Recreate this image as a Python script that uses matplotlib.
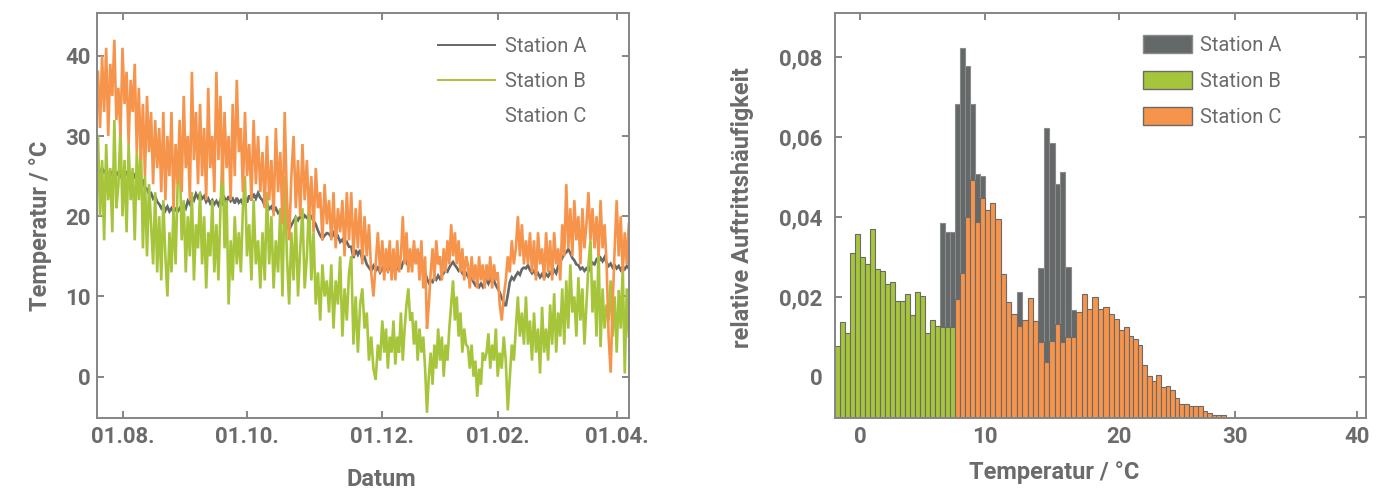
import numpy as np
import matplotlib
matplotlib.use("Agg")
import matplotlib.pyplot as plt
from matplotlib.lines import Line2D
from matplotlib.patches import Patch

plt.rcParams['font.family'] = ['Roboto', 'DejaVu Sans']

# ---------------- data: time series (day offset from 01.08.) ----------------
days = np.arange(-12, 250)

station_a = [
    26, 25.3, 26, 25.5, 25.8, 25, 25.6, 25.2, 25.8, 25.1,
    25.5, 24.8, 25.4, 25, 25.6, 24.9, 25.3, 24.6, 25.1, 24.5,
    24.9, 24.2, 24.4, 23.6, 23.4, 22.8, 22.9, 22.2, 22.5, 21.8,
    21.5, 21, 21.4, 20.7, 21.2, 20.6, 21, 20.5, 20.9, 20.6,
    21, 20.5, 21.4, 21, 21.9, 21.5, 22.4, 22, 22.8, 22.3,
    22.8, 22.2, 22.5, 21.8, 22.2, 21.6, 22, 21.5, 21.9, 21.4,
    22, 21.6, 22.3, 21.8, 22.5, 21.9, 22.2, 21.6, 22.3, 21.7,
    22, 21.5, 22.3, 21.7, 22.6, 22, 22.8, 22.2, 22.9, 22.3,
    22, 21.3, 21.6, 20.9, 21.2, 20.6, 21, 20.4, 20.7, 20.1,
    19.5, 18.8, 18.3, 18.9, 19.4, 19.9, 19.5, 20, 19.6, 20.1,
    19.8, 20.2, 20, 19.4, 19, 18.2, 17.6, 17.2, 17.6, 17.9,
    17.8, 17.4, 17.9, 17.2, 17.5, 16.8, 17.1, 16.5, 16.8, 16.2,
    16.2, 14.8, 15.8, 15.2, 15.8, 14.6, 14.9, 14, 13.6, 13.2,
    13.8, 13.2, 13.6, 13, 13.5, 13.1, 13.7, 13.2, 13.8, 13.3,
    13.6, 13.1, 13.5, 13.9, 13.4, 14.2, 14.6, 14.2, 14.9, 14.5,
    15, 14.6, 15.3, 14.8, 15.2, 14.6, 13.8, 13, 12.2, 11.7,
    12, 11.8, 12.4, 12.1, 12.6, 12.2, 12.6, 12.9, 13.3, 13.1,
    13.6, 14, 14.3, 13.9, 13.6, 13.2, 13.4, 12.9, 12.6, 12.9,
    12.5, 12.1, 12.3, 11.8, 11.4, 11.7, 11.2, 11.6, 11.2, 11.8,
    12, 11.6, 12.2, 11.8, 12, 11.4, 11, 10.5, 9.8, 9.2,
    8.8, 10.2, 11.8, 12.4, 12.1, 12.6, 13, 12.7, 13.4, 13.6,
    13.5, 13.9, 13.3, 12.9, 13.2, 12.6, 12.9, 12.4, 12.8, 12.3,
    12.8, 12.5, 13, 12.7, 13.3, 12.9, 13.8, 14.3, 14.8, 15.3,
    15.5, 15.9, 15.4, 14.8, 14.5, 14, 13.9, 13.4, 13.6, 13.2,
    13.5, 13.2, 13.8, 14.2, 14, 14.6, 14.3, 14.8, 14.4, 14.9,
    14.2, 13.8, 14.1, 13.6, 13.9, 13.5, 13.8, 13.3, 13.7, 13.4, 13.8, 13.5,
]

station_b = [
    30, 20, 27, 17, 29, 22, 26, 18, 32, 21,
    24, 31, 20, 27, 18, 29, 22, 26, 17, 28,
    22, 29, 16, 25, 15, 24, 19, 14, 23, 13,
    20, 12, 22, 15, 10, 18, 13, 21, 14, 24,
    28, 17, 22, 13, 20, 15, 23, 12, 19, 16,
    23, 14, 20, 11, 18, 15, 22, 13, 19, 12,
    21, 28, 16, 22, 9, 17, 12, 20, 14, 18,
    13, 21, 25, 15, 19, 12, 22, 14, 17, 11,
    18, 12, 23, 14, 20, 11, 17, 13, 21, 10,
    25, 15, 9, 18, 12, 20, 10, 16, 21, 11,
    15, 22, 12, 18, 9, 13, 7, 14, 10, 12,
    8, 14, 6, 12, 9, 15, 5, 11, 7, 13,
    15, 4, 10, 3, 9, 11, 6, 8, 2, 5,
    1, -0.4, 4, 2, 7, 3, 6, 1, 5, 3,
    7, 1.5, 5, 3, 8, 2, 6, 9, 11, 7,
    8, 4, 7, 2, 6, 3, 5, 1, -4.5, 0,
    3, -1, 4, 1, 6, 2, 5, 0, 4, 2,
    6, 9, 12, 7, 10, 5, 8, 3, 6, 4,
    3.7, 1, 4, 0, 2, -2.5, 1, -1, 3, 2,
    3, 5.4, 1, 4, 2, 6, 0, 3, 1, 5,
    2, -4.2, 0, 4, 2, 6, 10, 5, 8, 4,
    10, 4, 7, 2, 8, 3, 6, 0.4, 8.7, 3,
    6, 2, 9, 4, 10.4, 3, 8, 5, 11, 4,
    12, 6, 14, 8, 10, 5, 12.4, 7, 11, 4,
    9, 14, 17, 8, 12, 5, 16, 3.7, 11, 6,
    9, 7, 12, 5, 10, 3, 10.8, 6, 13.7, 0.4, 11, 5,
]

station_c = [
    38, 31, 40, 33, 41, 30, 39, 35, 42, 32,
    36, 30, 41, 34, 38, 29, 37, 33, 39, 28,
    36, 27, 34, 25, 35, 28, 33, 24, 32, 26,
    31, 23, 33, 22, 30, 25, 33, 21, 29, 24,
    32, 23, 35, 26, 30, 22, 38, 27, 33, 24,
    34, 25, 31, 22, 36, 26, 30, 23, 38, 27,
    35, 24, 33, 26, 30, 22, 34, 25, 37, 28,
    31, 23, 33, 25, 29, 22, 32, 24, 30, 23,
    28, 21, 30, 22, 27, 20, 31, 23, 28, 19,
    33, 22, 17, 25, 30, 21, 27, 20, 29, 22,
    27, 20, 25, 18, 26, 21, 23, 17, 24, 19,
    22, 17, 23, 16, 21, 18, 22, 15, 23, 17,
    23, 15, 21, 16, 22, 14, 20, 15, 19, 13,
    10, 14, 18, 13, 17, 12, 16, 13, 17, 12,
    16, 12, 17, 13, 15, 20, 14, 18, 13, 16,
    13, 17, 14, 16, 12, 17, 11, 15, 6, 9,
    13, 16, 12, 17, 14, 15, 12, 16, 13, 17,
    14, 19, 15, 18, 14, 17, 13, 16, 12, 15,
    14, 11, 15, 12, 14, 11, 15, 12, 14, 11,
    14, 12, 15, 11, 14, 12, 13, 9, 7, 10,
    12, 15, 13, 17, 14, 16, 20, 15, 19, 14,
    17, 14, 18, 13, 17, 12, 18, 14, 16, 12,
    18, 13, 17, 12, 18, 14, 16, 12, 19, 15,
    24, 16, 21, 15, 22, 17, 20, 14, 21, 16,
    19, 23, 17, 21, 16, 20, 15, 22, 16, 19,
    14, 5, 0.5, 9, 16, 22, 15, 20, 13, 18, 14, 19,
]

date_tick_days = [0, 61, 122, 184, 243]
date_tick_labels = ['01.08.', '01.10.', '01.12.', '01.02.', '01.04.']
temp_ticks_left = [0, 10, 20, 30, 40]

# ---------------- data: histogram (bins of 0.4 degC starting at -2.0) ----------------
bin_start = -2.0
bin_width = 0.4
freq_a = ([0] * 18 +
          [0.004, 0.008, 0.015, 0.0487, 0.0464, 0.0464, 0.0784, 0.0924, 0.0881, 0.0784,
           0.0609, 0.0605, 0.048, 0.045, 0.045, 0.034, 0.028, 0.025, 0.0314, 0.022,
           0.026, 0.022, 0.0374, 0.0726, 0.0687, 0.0586, 0.0616, 0.0378, 0.027, 0.025,
           0.022, 0.018, 0.015, 0.012, 0.009, 0.006, 0.004, 0.002] +
          [0] * 23)
freq_b = ([0.018, 0.0241, 0.0212, 0.0412, 0.0459, 0.0402, 0.0384, 0.0472, 0.0372, 0.0367,
           0.0334, 0.0339, 0.0293, 0.0293, 0.0309, 0.0257, 0.0316, 0.0304, 0.0212, 0.0245,
           0.023, 0.0228, 0.0228, 0.0228] +
          [0] * 55)
freq_c = ([0] * 24 +
          [0.0298, 0.0363, 0.0503, 0.0595, 0.0491, 0.0549, 0.052, 0.0537, 0.0497, 0.036,
           0.0291, 0.0259, 0.023, 0.0245, 0.0299, 0.0243, 0.0191, 0.0139, 0.0193, 0.0235,
           0.0191, 0.0202, 0.0202, 0.0266, 0.031, 0.0272, 0.0302, 0.0272, 0.0278, 0.0259,
           0.0248, 0.022, 0.0228, 0.0206, 0.0197, 0.0183, 0.0132, 0.0105, 0.0093, 0.0108,
           0.0078, 0.0081, 0.007, 0.0051, 0.0035, 0.0035, 0.0031, 0.0031, 0.0031, 0.0017,
           0.0012, 0.0008, 0.0007, 0.0007] +
          [0])
temp_ticks_right = [0, 10, 20, 30, 40]
freq_ticks = [0, 0.02, 0.04, 0.06, 0.08]
freq_tick_labels = ['0', '0,02', '0,04', '0,06', '0,08']

assert len(station_a) == len(days) == len(station_b) == len(station_c)
assert len(freq_a) == len(freq_b) == len(freq_c)

# ---------------- style ----------------
W, H = 1385, 490
C_A = '#646868'
C_B = '#a6c53b'
C_C = '#f6944c'
TXT = '#6b6b6b'
SPINE = '#858585'
LW = 1.9


def piecewise_scale(data_pts, px_pts):
    d = np.asarray(data_pts, float)
    p = np.asarray(px_pts, float)
    s0 = (p[1] - p[0]) / (d[1] - d[0])
    s1 = (p[-1] - p[-2]) / (d[-1] - d[-2])
    d_ext = np.concatenate([[d[0] - 1e4], d, [d[-1] + 1e4]])
    p_ext = np.concatenate([[p[0] - 1e4 * s0], p, [p[-1] + 1e4 * s1]])

    def fwd(x):
        return np.interp(np.asarray(x, float), d_ext, p_ext)

    def inv(y):
        return np.interp(np.asarray(y, float), p_ext, d_ext)
    return fwd, inv


fig = plt.figure(figsize=(W / 100, H / 100), dpi=100)

L1, R1, T1, B1 = 97.3, 629.0, 13.3, 418.0
L2, R2 = 835.0, 1366.0
ax1 = fig.add_axes([L1 / W, (H - B1) / H, (R1 - L1) / W, (B1 - T1) / H])
ax2 = fig.add_axes([L2 / W, (H - B1) / H, (R2 - L2) / W, (B1 - T1) / H])

# ---- left: time series ----
f1, i1 = piecewise_scale(date_tick_days, [122.5, 247.0, 382.3, 497.7, 616.7])
ax1.set_xscale('function', functions=(f1, i1))
ax1.plot(days, station_a, color=C_A, lw=LW, zorder=2, solid_joinstyle='miter')
ax1.plot(days, station_b, color=C_B, lw=LW, zorder=3, solid_joinstyle='miter')
ax1.plot(days, station_c, color=C_C, lw=LW, zorder=4, solid_joinstyle='miter')
ax1.set_xlim(float(i1(L1)), float(i1(R1)))
ax1.set_ylim(-5.15, 45.3)
ax1.set_xticks(date_tick_days)
ax1.set_xticklabels(date_tick_labels)
ax1.set_yticks(temp_ticks_left)
ax1.set_yticklabels([str(t) for t in temp_ticks_left])

# ---- right: histogram ----
f2, i2 = piecewise_scale(temp_ticks_right, [860.0, 984.5, 1119.3, 1235.0, 1357.0])
ax2.set_xscale('function', functions=(f2, i2))
Y0 = -0.0103
edges = bin_start + bin_width * np.arange(len(freq_a))
for freq, col, ec, z in [(freq_a, C_A, '#8a8c8c', 2), (freq_b, C_B, '#6a6a6a', 3), (freq_c, C_C, '#6a6a6a', 4)]:
    fr = np.asarray(freq, float)
    m = fr > 0
    ax2.bar(edges[m], fr[m], width=bin_width, bottom=Y0, align='edge',
            color=col, edgecolor=ec, linewidth=0.8, zorder=z)
ax2.set_xlim(float(i2(L2)), float(i2(R2)))
ax2.set_ylim(Y0, 0.09085)
ax2.set_xticks(temp_ticks_right)
ax2.set_xticklabels([str(t) for t in temp_ticks_right])
ax2.set_yticks(freq_ticks)
ax2.set_yticklabels(freq_tick_labels)

for ax in (ax1, ax2):
    for sp in ax.spines.values():
        sp.set_color(SPINE)
        sp.set_linewidth(1.4)
        sp.set_zorder(6)
    ax.tick_params(direction='in', length=5, width=1.4, color=SPINE,
                   top=True, right=True, labelsize=16, labelcolor=TXT)
    ax.tick_params(axis='x', pad=6)
    for lab in ax.get_xticklabels() + ax.get_yticklabels():
        lab.set_fontweight('bold')
ax1.tick_params(axis='y', pad=5)
ax2.tick_params(axis='y', pad=9)

lab_kw = dict(fontsize=17, fontweight='bold', color=TXT)
ax1.set_ylabel('Temperatur / °C', **lab_kw)
ax1.yaxis.set_label_coords((52 - L1) / (R1 - L1), 0.474)
ax1.set_xlabel('Datum', **lab_kw)
ax1.xaxis.set_label_coords((381 - L1) / (R1 - L1), (B1 - 468) / (B1 - T1))
ax2.set_ylabel('relative Auftrittshäufigkeit', **lab_kw)
ax2.yaxis.set_label_coords((754 - L2) / (R2 - L2), 0.519)
ax2.set_xlabel('Temperatur / °C', **lab_kw)
ax2.xaxis.set_label_coords((1054 - L2) / (R2 - L2), (B1 - 461) / (B1 - T1))

# legends
h1 = [Line2D([], [], color=C_A, lw=1.4), Line2D([], [], color=C_B, lw=1.4),
      Line2D([], [], color='none', lw=1.4)]
leg1 = ax1.legend(h1, ['Station A', 'Station B', 'Station C'], loc='upper left',
                  bbox_to_anchor=((438 - L1) / (R1 - L1), (B1 - 37) / (B1 - T1)),
                  frameon=False, fontsize=14.5, handlelength=2.85, handletextpad=0.5,
                  labelspacing=0.8, borderpad=0, borderaxespad=0)
h2 = [Patch(facecolor=C_A, edgecolor='#8a8c8c'), Patch(facecolor=C_B, edgecolor='#6a6a6a'),
      Patch(facecolor=C_C, edgecolor='#6a6a6a')]
leg2 = ax2.legend(h2, ['Station A', 'Station B', 'Station C'], loc='upper left',
                  bbox_to_anchor=((1143 - L2) / (R2 - L2), (B1 - 35) / (B1 - T1)),
                  frameon=False, fontsize=14.5, handlelength=2.45, handleheight=1.0,
                  handletextpad=0.4, labelspacing=0.8, borderpad=0, borderaxespad=0)
for leg in (leg1, leg2):
    for t in leg.get_texts():
        t.set_color(TXT)

fig.savefig('out.png', dpi=100)
